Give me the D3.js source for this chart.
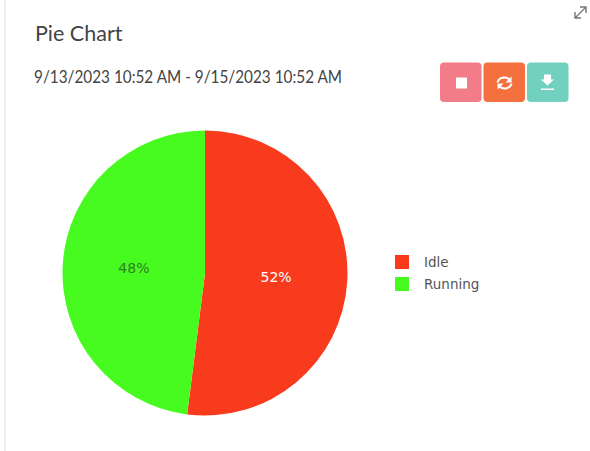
<!DOCTYPE html>
<html>
<head>
<meta charset="utf-8">
<script src="https://cdn.jsdelivr.net/npm/d3@7"></script>
<style>
  html, body { margin: 0; padding: 0; background: #fff; }
  svg { display: block; }
</style>
</head>
<body>
<div id="chart"></div>
<script>
const w = 590;
const h = 451;

const categories = ["Idle", "Running"];
const values = [52, 48];
const colours = ["#f93b1d", "#47fa1f"];
const labelColours = ["#ffffff", "#2f7f28"];

const title = "Pie Chart";
const dateRange = "9/13/2023 10:52 AM - 9/15/2023 10:52 AM";
const buttonColours = ["#f27c88", "#f4703f", "#72d0bf"];

const svg = d3.select("#chart")
    .append("svg")
    .attr("width", w)
    .attr("height", h);

// card edge on the left
svg.append("rect")
    .attr("x", 4).attr("y", 0)
    .attr("width", 2).attr("height", h)
    .attr("fill", "#eeeeee");

svg.append("text")
    .attr("x", 35).attr("y", 41)
    .attr("font-family", "Lato, sans-serif")
    .attr("font-size", 21.5)
    .attr("fill", "#444")
    .text(title);

// reference font is narrower than Lato, so squeeze it to the same width
svg.append("text")
    .attr("x", 34).attr("y", 83)
    .attr("font-family", "Lato, sans-serif")
    .attr("font-size", 16.5)
    .attr("fill", "#444")
    .attr("textLength", 308)
    .attr("lengthAdjust", "spacingAndGlyphs")
    .text(dateRange);

// expand icon
svg.append("path")
    .attr("d", "M575 18L586 7M580 7H586V13M575 12V18H581")
    .attr("fill", "none")
    .attr("stroke", "#777")
    .attr("stroke-width", 1.4);

// toolbar buttons
const buttons = svg.selectAll("g.btn")
    .data(buttonColours)
    .enter()
    .append("g")
    .attr("class", "btn")
    .attr("transform", (d, i) => "translate(" + (440 + i * 43.5) + ",62.5)");

buttons.append("rect")
    .attr("width", 41.5)
    .attr("height", 39.5)
    .attr("rx", 4)
    .attr("fill", d => d);

const stop = d3.select(buttons.nodes()[0]);
stop.append("rect")
    .attr("x", 16).attr("y", 15)
    .attr("width", 11).attr("height", 11)
    .attr("fill", "#fff");

const sync = d3.select(buttons.nodes()[1]);
sync.append("path")
    .attr("d", "M14 20A7 6 0 0 1 26 17M28 21A7 6 0 0 1 16 24")
    .attr("fill", "none")
    .attr("stroke", "#fff")
    .attr("stroke-width", 2);
sync.append("path")
    .attr("d", "M28 14V20H22ZM14 27V21H20Z")
    .attr("fill", "#fff");

const download = d3.select(buttons.nodes()[2]);
download.append("path")
    .attr("d", "M17 12H24V17H27L20.5 23L14 17H17Z")
    .attr("fill", "#fff");
download.append("rect")
    .attr("x", 14).attr("y", 26)
    .attr("width", 13).attr("height", 1.5)
    .attr("fill", "#fff");

// pie
const outerRadius = 142.5;
const pie = d3.pie().sort(null);
const arc = d3.arc().outerRadius(outerRadius).innerRadius(0);

const arcs = svg.selectAll("g.arc")
    .data(pie(values))
    .enter()
    .append("g")
    .attr("class", "arc")
    .attr("transform", "translate(205,273)");

arcs.append("path")
    .attr("fill", (d, i) => colours[i])
    .attr("d", arc);

arcs.append("text")
    .attr("transform", function(d) {
        const c = arc.centroid(d);
        return "translate(" + c + ")";
    })
    .attr("dy", "0.35em")
    .attr("text-anchor", "middle")
    .attr("font-family", "DejaVu Sans, sans-serif")
    .attr("font-size", 14)
    .attr("fill", (d, i) => labelColours[i])
    .text((d, i) => values[i] + "%");

// legend
const legend = svg.selectAll("g.legend")
    .data(categories)
    .enter()
    .append("g")
    .attr("class", "legend")
    .attr("transform", (d, i) => "translate(395," + (255 + i * 22) + ")");

legend.append("rect")
    .attr("width", 14)
    .attr("height", 14)
    .attr("fill", (d, i) => colours[i]);

legend.append("text")
    .attr("x", 29)
    .attr("y", 12)
    .attr("font-family", "DejaVu Sans, sans-serif")
    .attr("font-size", 13.5)
    .attr("fill", "#555")
    .text(d => d);
</script>
</body>
</html>
